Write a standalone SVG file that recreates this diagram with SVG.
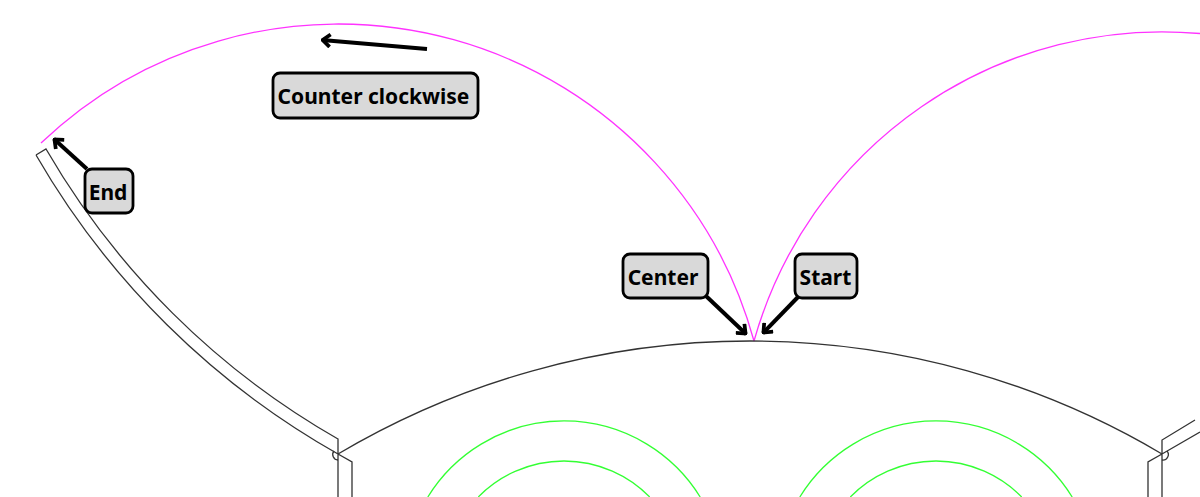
<svg xmlns="http://www.w3.org/2000/svg" width="1200" height="497" viewBox="0 0 1200 497">
<style>
.l{fill:none;stroke:#333;stroke-width:1.3}
.m{fill:none;stroke:#f3f;stroke-width:1.3}
.g{fill:none;stroke:#3f3;stroke-width:1.3}
.box{fill:#d9d9d9;stroke:#000;stroke-width:2.8}
.t{font-family:"Noto Sans","Open Sans",sans-serif;font-size:21px;font-weight:700;text-anchor:middle;fill:#000}
.a{fill:none;stroke:#000;stroke-width:4}
</style>
<defs><marker id="h" viewBox="0 0 12 12" refX="11" refY="6" markerWidth="15" markerHeight="15" markerUnits="userSpaceOnUse" orient="auto"><path d="M4.500 1L10.500 6L4.500 11" fill="none" stroke="#000" stroke-width="3"/></marker></defs>
<rect width="1200" height="497" fill="#fff"/>
<g id="connectors">
<path class="a" d="M427 49L322 40" marker-end="url(#h)"/>
<path class="a" d="M87 169L54 139" marker-end="url(#h)"/>
<path class="a" d="M706 296L746 334" marker-end="url(#h)"/>
<path class="a" d="M798 297L763 333" marker-end="url(#h)"/>
</g>
<g id="arcs">
<path class="m" d="M754 341A431 431 0 0 0 41 143"/>
<path class="m" d="M754 341A424 424 0 0 1 1200 33.500"/>
<path class="l" d="M338 454A807.600 807.600 0 0 1 1162 454"/>
<path class="g" d="M427.800 497A160 160 0 0 1 700.200 497"/>
<path class="g" d="M478.300 497A120 120 0 0 1 649.700 497"/>
<path class="g" d="M799.800 497A160 160 0 0 1 1072.200 497"/>
<path class="g" d="M850.300 497A120 120 0 0 1 1021.700 497"/>
</g>
<g id="left-part">
<path class="l" d="M36 155L46 149A790 790 0 0 0 338 439V497M36 155A806 806 0 0 0 338 454L352 462V497"/>
<path class="l" d="M334 451A5.500 5.500 0 0 0 338 460"/>
</g>
<g id="right-part">
<path class="l" d="M1195 420L1162 440V497M1200 432L1162 454L1148 462V497"/>
<path class="l" d="M1167 451A5.500 5.500 0 0 1 1162 460"/>
</g>
<g id="node-cw"><rect class="box" x="273" y="73" width="205" height="45" rx="7"/><text class="t" x="373.500" y="104">Counter clockwise</text></g>
<g id="node-end"><rect class="box" x="85" y="169" width="48" height="44" rx="7"/><text class="t" x="108" y="199.500">End</text></g>
<g id="node-center"><rect class="box" x="623" y="254" width="85" height="44" rx="7"/><text class="t" x="663" y="284.500">Center</text></g>
<g id="node-start"><rect class="box" x="795" y="254" width="62" height="44" rx="7"/><text class="t" x="825.500" y="284.500">Start</text></g>
</svg>
